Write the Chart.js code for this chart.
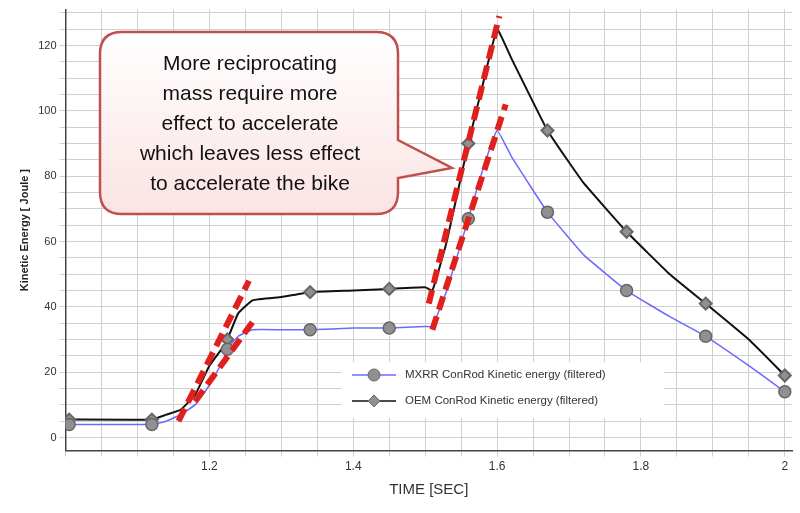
<!DOCTYPE html><html><head><meta charset="utf-8">
<script src="https://cdn.jsdelivr.net/npm/chart.js@4"></script>
<style>body{margin:0;background:#fff}#w{width:800px;height:513px}</style></head><body><div id="w"><canvas id="c"></canvas></div>
<script>
const oemX=[1.0,1.005,1.12,1.14,1.16,1.18,1.2,1.22,1.225,1.24,1.26,1.3,1.34,1.4,1.45,1.5,1.51,1.53,1.56,1.58,1.6,1.62,1.67,1.72,1.78,1.84,1.89,1.95,2.0];
const oemY=[5.5,5.5,5.5,7,8.5,13,22,28,30,38,42,43,44.5,45,45.5,46,45,60,90,108,125,116,94,78,63,50,41,30,19];
const mxX=[1.0,1.005,1.12,1.14,1.16,1.18,1.2,1.22,1.225,1.24,1.26,1.3,1.34,1.4,1.45,1.5,1.51,1.53,1.56,1.58,1.6,1.62,1.67,1.72,1.78,1.84,1.89,1.95,2.0];
const mxY=[4,4,4,5,7,10,16,24,27,31,33,33,33,33.5,33.5,34,34,45,67,82,94,86,69,56,45,37,31,22,14];
const markerX=[1.005,1.12,1.225,1.34,1.45,1.56,1.67,1.78,1.89,2.0];
const trendA=[[1.157,5],[1.255,48]];
const trendB=[[1.18,11],[1.262,36]];
const trendC=[[1.505,41],[1.603,129]];
const trendD=[[1.51,33],[1.612,102]];
const seriesNames=['MXRR ConRod Kinetic energy (filtered)','OEM ConRod Kinetic energy (filtered)'];
const calloutLines=['More reciprocating','mass require more','effect to accelerate','which leaves less effect','to accelerate the bike'];
const pts=(xs,ys)=>xs.map((x,i)=>({x,y:ys[i]}));
const rad=(r)=>ctx=>markerX.includes(ctx.raw.x)?r:0;
const dash=(t)=>({data:t.map(p=>({x:p[0],y:p[1]})),borderColor:'#e0201c',borderWidth:6,borderDash:[14,7],pointRadius:0,order:-1});
const custom={id:'custom',afterDraw(ch){
 const c=ch.ctx;c.save();
 const x0=100,y0=32,x1=398,y1=214,r=22;
 c.beginPath();c.moveTo(x0+r,y0);c.lineTo(x1-r,y0);c.quadraticCurveTo(x1,y0,x1,y0+r);
 c.lineTo(x1,140);c.lineTo(452,168);c.lineTo(x1,178);
 c.lineTo(x1,y1-r);c.quadraticCurveTo(x1,y1,x1-r,y1);c.lineTo(x0+r,y1);c.quadraticCurveTo(x0,y1,x0,y1-r);c.lineTo(x0,y0+r);c.quadraticCurveTo(x0,y0,x0+r,y0);c.closePath();
 const g=c.createLinearGradient(0,y0,0,y1);g.addColorStop(0,'#ffffff');g.addColorStop(1,'#fbe3e3');
 c.fillStyle=g;c.fill();c.strokeStyle='#c0504d';c.lineWidth=2.5;c.stroke();
 c.fillStyle='#111';c.font='21px "Liberation Sans",Arial';c.textAlign='center';c.textBaseline='middle';
 calloutLines.forEach((t,i)=>c.fillText(t,250,64+i*30));
 c.fillStyle='#fff';c.fillRect(342,362,322,56);
 c.font='11.5px "Liberation Sans",Arial';c.textAlign='left';c.fillStyle='#333';
 [[ '#6b6bff','circle'],['#111','rect']].forEach((s,i)=>{const yy=375+i*26;
  c.strokeStyle=s[0];c.lineWidth=1.5;c.beginPath();c.moveTo(352,yy);c.lineTo(396,yy);c.stroke();
  c.fillStyle='#909090';c.strokeStyle='#666';c.lineWidth=1;c.beginPath();
  if(s[1]==='circle')c.arc(374,yy,6,0,7);else{c.moveTo(374,yy-6);c.lineTo(380,yy);c.lineTo(374,yy+6);c.lineTo(368,yy);c.closePath();}
  c.fill();c.stroke();c.fillStyle='#333';c.fillText(seriesNames[i],405,yy);});
 c.restore();}};
new Chart(document.getElementById('c'),{type:'line',
 data:{datasets:[
  {label:seriesNames[0],data:pts(mxX,mxY),borderColor:'#6b6bff',borderWidth:1.5,pointRadius:rad(6),pointBackgroundColor:'#909090',pointBorderColor:'#666',tension:0.1},
  {label:seriesNames[1],data:pts(oemX,oemY),borderColor:'#111',borderWidth:2,pointStyle:'rectRot',pointRadius:rad(6),pointBackgroundColor:'#909090',pointBorderColor:'#666',tension:0.1},
  dash(trendA),dash(trendB),dash(trendC),dash(trendD)]},
 options:{responsive:true,maintainAspectRatio:false,animation:false,
  layout:{padding:{top:5,right:5,left:14,bottom:10}},
  plugins:{legend:{display:false},tooltip:{enabled:false}},
  scales:{
   x:{type:'linear',min:1.0,max:2.01,border:{color:'#444',width:1.5},
    grid:{color:'#d0d0d0',tickLength:6},
    afterBuildTicks:ax=>{const t=[];for(let i=0;i<=20;i++)t.push({value:+(1+i*0.05).toFixed(2)});ax.ticks=t;},
    ticks:{autoSkip:false,maxRotation:0,color:'#333',font:{size:12},callback:v=>{const r=Math.round(v*100);return (r>=120&&r%20===0)?String(+(v.toFixed(1))):'';}},
    title:{display:true,text:'TIME [SEC]',color:'#333',font:{size:15}}},
   y:{min:-4,max:131,border:{color:'#444',width:1.5},grid:{color:'#d0d0d0',tickLength:6},
    afterBuildTicks:ax=>{const t=[];for(let v=0;v<=130;v+=5)t.push({value:v});ax.ticks=t;},
    ticks:{autoSkip:false,color:'#333',font:{size:11},callback:v=>v%20===0?String(v):''},
    title:{display:true,text:'Kinetic Energy [ Joule ]',color:'#222',font:{size:11,weight:'bold'}}}}},
 plugins:[custom]});
</script></body></html>
